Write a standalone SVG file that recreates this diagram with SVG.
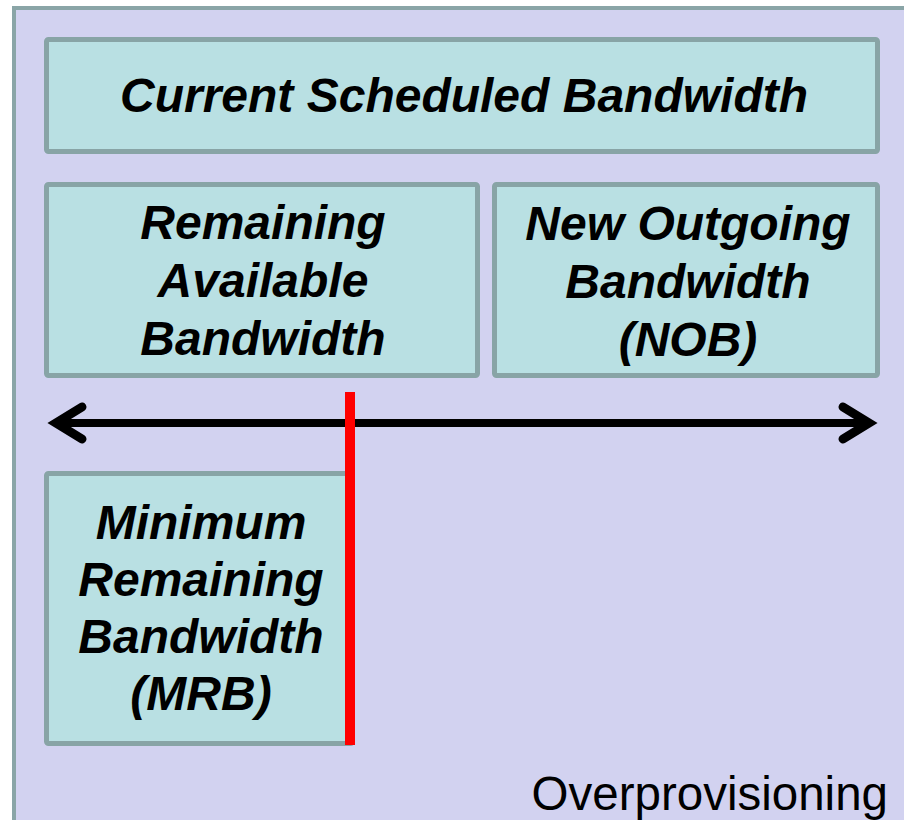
<svg xmlns="http://www.w3.org/2000/svg" width="904" height="820" viewBox="0 0 904 820">
  <style>
    .frame { fill: #d2d2f0; stroke: #8aa5a7; stroke-width: 4; }
    .box { fill: #b9e0e3; stroke: #88a4a6; stroke-width: 5; }
    .label { font-family: "Liberation Sans", Arial, sans-serif; font-size: 48px; font-weight: bold; font-style: italic; fill: #000; text-anchor: middle; }
    .caption { font-family: "Liberation Sans", Arial, sans-serif; font-size: 47.5px; fill: #000; text-anchor: end; }
    .axis { stroke: #000; stroke-width: 8; fill: none; }
  </style>
  <defs>
    <marker id="chevron" viewBox="-40 -25 50 50" refX="0" refY="0" markerWidth="50" markerHeight="50" markerUnits="userSpaceOnUse" orient="auto-start-reverse">
      <path d="M -26 -16 L 0 0 L -26 16" fill="none" stroke="#000" stroke-width="9" stroke-linecap="round" stroke-linejoin="miter"/>
    </marker>
  </defs>

  <!-- background region -->
  <rect class="frame" x="14" y="8" width="1000" height="900"/>

  <g id="current-scheduled">
    <rect class="box" x="46.5" y="39.5" width="831" height="112" rx="2"/>
    <text class="label" x="464" y="112">Current Scheduled Bandwidth</text>
  </g>

  <g id="remaining-available">
    <rect class="box" x="46.5" y="184.5" width="431" height="191" rx="2"/>
    <text class="label" x="263" y="239">Remaining</text>
    <text class="label" x="263" y="297">Available</text>
    <text class="label" x="263" y="355">Bandwidth</text>
  </g>

  <g id="nob">
    <rect class="box" x="494.5" y="184.5" width="383" height="191" rx="2"/>
    <text class="label" x="688" y="240">New Outgoing</text>
    <text class="label" x="688" y="298">Bandwidth</text>
    <text class="label" x="688" y="356">(NOB)</text>
  </g>

  <g id="mrb">
    <rect class="box" x="46.5" y="473.5" width="306" height="270" rx="2"/>
    <text class="label" x="201" y="539">Minimum</text>
    <text class="label" x="201" y="596">Remaining</text>
    <text class="label" x="201" y="653">Bandwidth</text>
    <text class="label" x="201" y="710">(MRB)</text>
  </g>

  <g id="connectors">
    <line class="axis" x1="56" y1="423" x2="869" y2="423" marker-start="url(#chevron)" marker-end="url(#chevron)"/>
    <rect x="345" y="392" width="10" height="353" fill="#ff0000"/>
  </g>

  <text class="caption" x="888" y="810">Overprovisioning</text>
</svg>
